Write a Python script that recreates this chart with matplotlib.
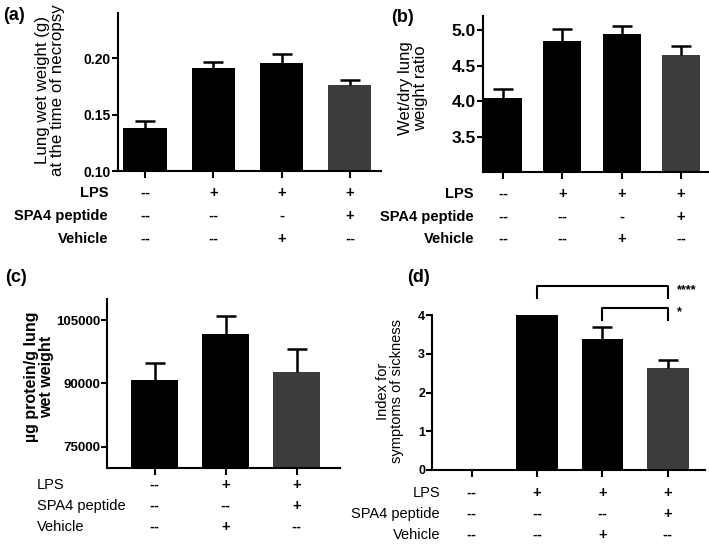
import matplotlib
matplotlib.use("Agg")
import matplotlib.pyplot as plt
import matplotlib.transforms as mtransforms

plt.rcParams['font.family'] = ['Liberation Sans', 'DejaVu Sans']

W, H = 709, 545

# ---------------- data ----------------
a_vals = [0.138, 0.191, 0.196, 0.176]
a_err = [0.006, 0.006, 0.008, 0.005]
b_vals = [4.04, 4.85, 4.94, 4.65]
b_err = [0.13, 0.16, 0.12, 0.12]
c_vals = [90800, 101600, 92700]
c_err = [4100, 4400, 5400]
d_vals = [0.0, 4.0, 3.38, 2.64]
d_err = [0.0, 0.0, 0.31, 0.21]

rows = ["LPS", "SPA4 peptide", "Vehicle"]
a_table = [["--", "+", "+", "+"], ["--", "--", "-", "+"], ["--", "--", "+", "--"]]
b_table = [["--", "+", "+", "+"], ["--", "--", "-", "+"], ["--", "--", "+", "--"]]
c_table = [["--", "+", "+"], ["--", "--", "+"], ["--", "+", "--"]]
d_table = [["--", "+", "+", "+"], ["--", "--", "--", "+"], ["--", "--", "+", "--"]]

a_ylabel = "Lung wet weight (g)\nat the time of necropsy"
b_ylabel = "Wet/dry lung\nweight ratio"
c_ylabel = "\u00b5g protein/g lung\nwet weight"
d_ylabel = "Index for\nsymptoms of sickness"

a_ticks = [0.10, 0.15, 0.20]
a_ticklabels = ["0.10", "0.15", "0.20"]
b_ticks = [3.5, 4.0, 4.5, 5.0]
b_ticklabels = ["3.5", "4.0", "4.5", "5.0"]
c_ticks = [75000, 90000, 105000]
c_ticklabels = ["75000", "90000", "105000"]
d_ticks = [0, 1, 2, 3, 4]
d_ticklabels = ["0", "1", "2", "3", "4"]

sig_pairs = [(1, 3), (2, 3)]
sig_labels = ["****", "*"]

BLACK = "#000000"
GRAY = "#3c3c3c"

fig = plt.figure(figsize=(W / 100, H / 100), dpi=100)


def make_ax(l, t, r, b):
    return fig.add_axes([l / W, 1 - b / H, (r - l) / W, (b - t) / H])


def fy(ypx):
    return 1 - ypx / H


def style(ax, ticks, ticklabels, tsize):
    for s in ["top", "right"]:
        ax.spines[s].set_visible(False)
    for s in ["left", "bottom"]:
        ax.spines[s].set_linewidth(1.5)
    ax.set_yticks(ticks)
    ax.set_yticklabels(ticklabels, fontsize=tsize, fontweight="bold")
    ax.tick_params(axis="y", direction="out", length=4, width=1.5, pad=1)
    ax.tick_params(axis="x", direction="out", length=5, width=1.5, labelbottom=False)


def bars(ax, vals, errs, width, capwidth):
    n = len(vals)
    x = list(range(n))
    colors = [BLACK] * (n - 1) + [GRAY]
    ax.bar(x, vals, width=width, color=colors, zorder=2)
    ex = [xi for xi, e in zip(x, errs) if e > 0]
    ev = [v for v, e in zip(vals, errs) if e > 0]
    et = [v + e for v, e in zip(vals, errs) if e > 0]
    ax.vlines(ex, ev, et, color=BLACK, lw=1.8, zorder=3)
    ax.plot(ex, et, ls="none", marker="_", markersize=capwidth,
            markeredgewidth=1.8, color=BLACK, zorder=3)
    ax.set_xticks(x)


def table(ax, tab, ys, label_x, ha, size, weight, vsize):
    tr = mtransforms.blended_transform_factory(ax.transData, fig.transFigure)
    for r, (name, row) in enumerate(zip(rows, tab)):
        fig.text(label_x / W, fy(ys[r]), name, ha=ha, va="center",
                 fontsize=size, fontweight=weight)
        for i, v in enumerate(row):
            ax.text(i, fy(ys[r]), v, transform=tr, ha="center", va="center",
                    fontsize=vsize, fontweight="bold", clip_on=False)


# ---------------- (a) ----------------
axa = make_ax(118, 13, 381, 171)
bars(axa, a_vals, a_err, 0.63, 15)
axa.set_xlim(-0.395, 3.455)
axa.set_ylim(0.10, 0.24)
style(axa, a_ticks, a_ticklabels, 10)
fig.text(50 / W, fy(90), a_ylabel, rotation=90, ha="center", va="center",
         fontsize=12.2, multialignment="center", linespacing=1.0)
table(axa, a_table, [193, 216, 239], 108, "right", 10.5, "bold", 10.5)
fig.text(14 / W, fy(15), "(a)", ha="center", va="center", fontsize=13, fontweight="bold")

# ---------------- (b) ----------------
axb = make_ax(483, 16, 708, 172)
bars(axb, b_vals, b_err, 0.64, 14)
axb.set_xlim(-0.337, 3.457)
axb.set_ylim(3.0, 5.2)
style(axb, b_ticks, b_ticklabels, 12.5)
fig.text(413 / W, fy(88), b_ylabel, rotation=90, ha="center", va="center",
         fontsize=12, multialignment="center", linespacing=1.0)
table(axb, b_table, [194, 217, 239], 474, "right", 10.5, "bold", 10.5)
fig.text(403 / W, fy(17), "(b)", ha="center", va="center", fontsize=13, fontweight="bold")

# ---------------- (c) ----------------
axc = make_ax(107, 299, 340, 468)
bars(axc, c_vals, c_err, 0.66, 14)
axc.set_xlim(-0.67, 2.61)
axc.set_ylim(70000, 110000)
style(axc, c_ticks, c_ticklabels, 9.5)
fig.text(39 / W, fy(377), c_ylabel, rotation=90, ha="center", va="center",
         fontsize=11.5, fontweight="bold", multialignment="center", linespacing=0.95)
table(axc, c_table, [485, 506, 527], 37, "left", 10.5, "normal", 10.5)
fig.text(16 / W, fy(278), "(c)", ha="center", va="center", fontsize=13, fontweight="bold")

# ---------------- (d) ----------------
axd = make_ax(432, 315, 705, 470)
bars(axd, d_vals, d_err, 0.64, 14)
axd.set_xlim(-0.61, 3.57)
axd.set_ylim(0, 4)
style(axd, d_ticks, d_ticklabels, 9)
fig.text(390 / W, fy(391), d_ylabel, rotation=90, ha="center", va="center",
         fontsize=10.5, multialignment="center", linespacing=1.05)
table(axd, d_table, [493, 514, 535], 440, "right", 10.5, "normal", 10.5)
fig.text(419 / W, fy(278), "(d)", ha="center", va="center", fontsize=13, fontweight="bold")

# significance brackets
br_tops = [4.75, 4.19]
br_drop = 0.32
for (i, j), top, lab in zip(sig_pairs, br_tops, sig_labels):
    axd.plot([i, i, j, j], [top - br_drop, top, top, top - br_drop], color=BLACK,
             lw=1.5, clip_on=False)
    axd.text(j + 0.14, top - 0.11, lab, ha="left", va="center", fontsize=9,
             fontweight="bold", clip_on=False)

fig.savefig("out.png", dpi=100)
